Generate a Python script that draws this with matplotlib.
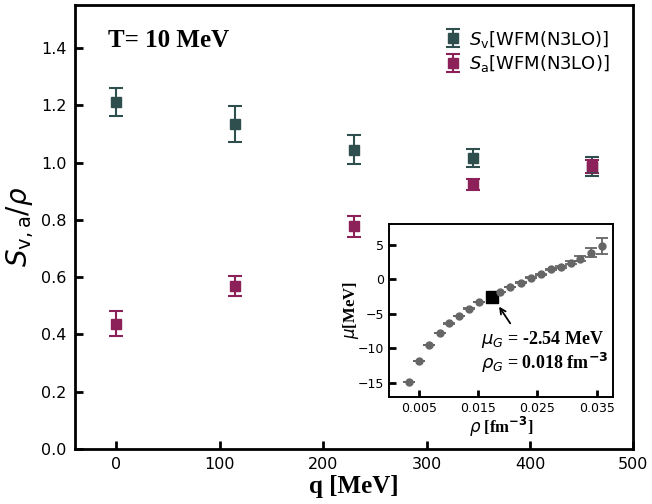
import numpy as np
import matplotlib.pyplot as plt

# main panel data
q = [0, 115, 230, 345, 460]
sv = [1.211, 1.134, 1.045, 1.016, 0.986]
sv_err = [0.049, 0.062, 0.050, 0.030, 0.034]
sa = [0.438, 0.570, 0.778, 0.924, 0.987]
sa_err = [0.043, 0.035, 0.036, 0.020, 0.022]

# inset: chemical potential vs density
rho = [0.00336, 0.00505, 0.00674, 0.00855, 0.01012, 0.01181, 0.0135, 0.01519,
       0.01868, 0.02037, 0.02218, 0.02387, 0.02561, 0.0273, 0.02894, 0.03068, 0.0322,
       0.0340, 0.03586]
mu = [-14.84, -11.80, -9.52, -7.73, -6.38, -5.27, -4.21, -3.24,
      -1.79, -1.12, -0.44, 0.24, 0.77, 1.49, 1.83, 2.46, 3.04, 3.91, 4.87]
mu_err = [0.02, 0.02, 0.02, 0.02, 0.02, 0.02, 0.02, 0.02,
          0.03, 0.03, 0.04, 0.05, 0.06, 0.08, 0.1, 0.15, 0.3, 0.6, 1.2]
rho_g = 0.0173
mu_g = -2.54

SV_COLOR = '#2f4f4f'
SA_COLOR = '#8b2158'
SERIF = 'Liberation Serif'

fig = plt.figure(figsize=(6.52, 5.04), dpi=100)
ax = fig.add_axes([0.115, 0.109, 0.8565, 0.881])

ax.errorbar(q, sv, yerr=sv_err, fmt='s', color=SV_COLOR, ms=7, capsize=5,
            elinewidth=1.5, capthick=1.5, label=r'$S_{\rm v}$[WFM(N3LO)]')
ax.errorbar(q, sa, yerr=sa_err, fmt='s', color=SA_COLOR, ms=7, capsize=5,
            elinewidth=1.5, capthick=1.5, label=r'$S_{\rm a}$[WFM(N3LO)]')

ax.set_xlim(-40, 500)
ax.set_ylim(0, 1.55)
ax.set_xticks([0, 100, 200, 300, 400, 500])
ax.set_yticks(np.arange(0, 1.41, 0.2))
ax.set_yticklabels(['%.1f' % v for v in np.arange(0, 1.41, 0.2)])
ax.tick_params(direction='in', length=6, width=2, labelsize=11.5, pad=6)
for s in ax.spines.values():
    s.set_linewidth(2)

ax.set_xlabel('q [MeV]', fontsize=18, fontweight='bold', family=SERIF, labelpad=2)
ax.set_ylabel(r'$S_{\rm v,a}/\rho$', fontsize=20, labelpad=4)
ax.text(0.059, 0.921, 'T= 10 MeV', transform=ax.transAxes, fontsize=18,
        fontweight='bold', family=SERIF, va='center')
ax.legend(loc='upper right', frameon=False, fontsize=13, handletextpad=0.4,
          handlelength=1.0, borderaxespad=0.9, labelspacing=0.2)

# inset
axi = fig.add_axes([0.5966, 0.2129, 0.343, 0.342])
axi.errorbar(rho, mu, yerr=mu_err, fmt='o', color='#666666', ms=5, capsize=4,
             elinewidth=1.3, capthick=1.3)
axi.plot([rho_g], [mu_g], 's', color='black', ms=8.5)
axi.set_xlim(0.0, 0.0377)
axi.set_ylim(-17, 8)
axi.set_xticks([0.005, 0.015, 0.025, 0.035])
axi.set_xticklabels(['0.005', '0.015', '0.025', '0.035'])
axi.set_yticks([-15, -10, -5, 0, 5])
axi.tick_params(direction='in', length=5, width=2, labelsize=9)
for s in axi.spines.values():
    s.set_linewidth(1.4)
axi.set_xlabel(r'$\rho$ [fm$^{\mathbf{-3}}$]', fontsize=12, fontweight='bold',
               family=SERIF, labelpad=0)
axi.set_ylabel(r'$\mu$[MeV]', fontsize=12, fontweight='bold', family=SERIF, labelpad=-2)
axi.annotate('', xy=(0.0183, -3.6), xytext=(0.0207, -6.7),
             arrowprops=dict(arrowstyle='->', color='black', lw=1.3))
axi.text(0.0155, -10.55, '$\\mu_G$ = -2.54 MeV\n$\\rho_G$ = 0.018 fm$^{\\mathbf{-3}}$',
         fontsize=13, fontweight='bold', family=SERIF, ha='left', va='center',
         linespacing=1.05)

fig.savefig('out.png', dpi=100)
